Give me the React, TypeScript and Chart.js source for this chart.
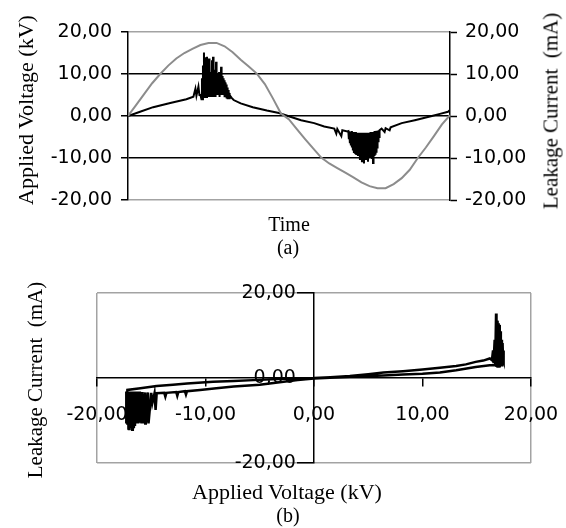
import React, { useEffect, useRef } from "react";
import { Chart, registerables } from "chart.js";

Chart.register(...registerables);

// ---------- (a) Time plot: applied voltage (kV) & leakage current (mA) ----------
// time axis in samples (32 kHz -> 640 samples per 50 Hz cycle)
const sampleTimes = [0, 16, 32, 48, 64, 80, 96, 112, 128, 144, 160, 176, 192, 208, 224, 240, 256, 272, 288, 304, 320, 336, 352, 368, 384, 400, 416, 432, 448, 464, 480, 496, 512, 528, 544, 560, 576, 592, 608, 624, 640];
const appliedVoltage = [0, 2.6, 5.2, 7.8, 10.0, 12.0, 13.7, 15.0, 16.0, 16.9, 17.4, 17.4, 16.6, 15.2, 13.4, 11.8, 10.1, 7.6, 4.2, 0.6, -0.8, -3.2, -5.5, -7.7, -9.9, -11.3, -12.4, -13.5, -14.6, -15.8, -16.7, -17.2, -17.2, -16.2, -14.8, -12.8, -10.0, -7.5, -4.8, -2.0, 0.2];

const currentTimes = [
  0, 24, 50, 84, 116, 130, 134, 136, 140, 142, 144,
  146, 147, 148, 149, 150, 151, 152, 153, 154, 155, 156, 157, 158, 159, 160, 161, 162, 163, 164, 165,
  166, 167, 168, 169, 170, 171, 172, 173, 174, 175, 176, 177, 178, 179, 180, 181, 182, 183, 184, 185,
  186, 187, 188, 189, 190, 191, 192, 193, 194, 195, 196, 197, 198, 199, 200, 201, 202, 203,
  206, 210, 224, 248, 276, 300, 318,
  344, 370, 390, 410, 414, 416, 424, 426, 436,
  438, 439, 440, 441, 442, 443, 444, 445, 446, 447, 448, 449, 450, 451, 452, 453, 454, 455, 456, 457,
  458, 459, 460, 461, 462, 463, 464, 465, 466, 467, 468, 469, 470, 471, 472, 473, 474, 475, 476, 477,
  478, 479, 480, 481, 482, 483, 484, 485, 486, 487, 488, 489, 490, 491, 492, 493, 494, 495, 496, 497,
  498, 499, 500,
  504, 510, 512, 520, 522, 544, 570, 604, 620, 636, 640,
];
const leakageCurrent = [
  0, 1.0, 2.1, 3.1, 4.0, 4.6, 6.5, 4.8, 7.0, 5.0, 5.0,
  4.0, 9.0, 4.0, 12.0, 4.5, 15.1, 5.0, 14.0, 4.5, 10.0, 4.5, 14.1, 5.0, 9.5, 4.5, 13.7, 5.0, 10.0, 4.5, 10.5,
  4.5, 13.3, 5.0, 14.1, 4.5, 9.8, 5.0, 11.0, 4.5, 12.9, 5.0, 10.0, 5.0, 9.5, 5.0, 10.5, 4.5, 9.5, 5.0, 11.7,
  5.0, 9.5, 5.0, 9.0, 5.0, 8.5, 4.5, 8.0, 4.5, 7.5, 4.2, 6.8, 4.0, 6.2, 4.0, 5.5, 4.0, 4.8,
  4.3, 3.8, 3.0, 2.1, 1.3, 0.7, 0.0,
  -1.0, -1.7, -2.5, -3.0, -4.2, -3.1, -4.8, -3.4, -3.7,
  -3.6, -5.5, -3.8, -6.5, -3.8, -7.0, -3.6, -7.5, -4.0, -8.2, -3.8, -8.8, -4.0, -9.0, -3.8, -9.2, -4.0, -9.3, -4.0, -9.5,
  -4.0, -9.3, -4.0, -10.5, -4.2, -9.3, -4.0, -11.0, -4.0, -9.5, -4.2, -11.3, -4.0, -9.5, -4.0, -10.5, -4.0, -9.3, -4.0, -10.9,
  -4.0, -9.2, -4.0, -9.5, -3.8, -9.2, -3.8, -10.0, -3.8, -11.2, -3.8, -9.3, -3.6, -9.0, -3.6, -8.5, -3.5, -7.5, -3.5, -6.0,
  -3.4, -5.0, -3.4,
  -3.0, -3.8, -2.9, -3.4, -2.7, -1.7, -1.0, 0.0, 0.5, 1.0, 1.4,
];

// ---------- (b) Leakage current vs applied voltage ----------
const voltageB = [
  0.0, 1.5, 3.3, 5.0, 6.4, 8.2, 10.0, 11.6, 13.1, 14.0, 14.9, 15.6, 16.2, 16.4,
  16.5, 16.55, 16.65, 16.7, 16.78, 16.82, 16.88, 16.92, 16.98, 17.02, 17.08, 17.12, 17.18, 17.22, 17.28, 17.32, 17.38, 17.42, 17.48, 17.5, 17.45, 17.35,
  17.0, 16.2, 14.9, 13.1, 11.6, 10.0, 8.2, 6.4, 3.3, 1.0, 0.0,
  -1.5, -2.8, -5.0, -7.4, -9.0, -10.5, -11.7, -11.8, -11.9, -12.5, -12.6, -12.7, -13.6, -13.7, -13.8, -14.5,
  -14.6, -14.7, -14.9, -15.0, -15.25, -15.3, -15.5, -15.55, -15.75, -15.8,
  -15.9, -15.95, -16.0, -16.05, -16.1, -16.15, -16.2, -16.25, -16.3, -16.35, -16.4, -16.45, -16.5, -16.55,
  -16.6, -16.65, -16.7, -16.75, -16.8, -16.85, -16.9, -16.95, -17.0, -17.05, -17.1, -17.15, -17.2, -17.25, -17.3, -17.2,
  -16.0, -14.5, -13.0, -11.7, -9.3, -7.4, -5.6, -2.8, 0.0,
];
const currentB = [
  0.0, 0.2, 0.5, 0.9, 1.3, 1.6, 2.0, 2.4, 2.8, 3.2, 3.8, 4.1, 4.6, 4.2,
  6.5, 3.5, 9.0, 3.0, 15.2, 2.6, 13.5, 2.4, 12.9, 2.4, 12.5, 2.5, 11.0, 3.0, 9.0, 3.5, 8.2, 4.5, 6.5, 4.0, 5.4, 3.0,
  3.2, 3.0, 2.6, 1.8, 1.3, 1.0, 0.8, 0.6, 0.3, 0.0, -0.1,
  -0.5, -0.9, -1.6, -2.0, -2.4, -2.8, -3.1, -3.9, -3.1, -3.3, -4.2, -3.3, -3.5, -4.4, -3.5, -3.6,
  -7.5, -3.6, -5.9, -3.5, -10.7, -3.4, -10.7, -3.4, -10.7, -3.3,
  -10.7, -3.3, -10.5, -3.2, -10.0, -3.2, -10.7, -3.2, -10.5, -3.2, -10.7, -3.2, -11.0, -3.2,
  -11.5, -3.2, -12.2, -3.2, -11.0, -3.2, -11.5, -3.2, -12.0, -3.2, -12.2, -3.2, -11.0, -3.2, -10.7, -2.8,
  -2.4, -1.9, -1.6, -1.3, -0.9, -0.7, -0.5, -0.2, 0.0,
];

const fmt = (v: any) => Number(v).toFixed(2).replace(".", ",");
// labels of the centred y axis sit a little left of the axis line
const fmtCentred = (v: any) => fmt(v) + "   ";
const tickFont = { family: "'DejaVu Sans', sans-serif", size: 19 };
const serif = "'Liberation Serif', 'Times New Roman', serif";

function Label(props: { x: number; y: number; text: string; size: number; rotate?: boolean }) {
  const { x, y, text, size, rotate } = props;
  return (
    <div
      style={{
        position: "absolute",
        left: x,
        top: y,
        transform: `translate(-50%, -50%)${rotate ? " rotate(-90deg)" : ""}`,
        fontFamily: serif,
        fontSize: size,
        lineHeight: 1,
        whiteSpace: "pre",
        color: "#000",
      }}
    >
      {text}
    </div>
  );
}

export default function App() {
  const refA = useRef<HTMLCanvasElement>(null);
  const refB = useRef<HTMLCanvasElement>(null);

  useEffect(() => {
    const edgeGray = "#a3a3a3";
    const chartA = new Chart(refA.current as HTMLCanvasElement, {
      type: "line",
      data: {
        datasets: [
          {
            label: "Applied Voltage (kV)",
            data: sampleTimes.map((t, i) => ({ x: t, y: appliedVoltage[i] })),
            borderColor: "#8c8c8c",
            borderWidth: 2,
            pointRadius: 0,
            tension: 0,
            yAxisID: "y",
          },
          {
            label: "Leakage Current (mA)",
            data: currentTimes.map((t, i) => ({ x: t, y: leakageCurrent[i] })),
            borderColor: "#000",
            borderWidth: 2,
            pointRadius: 0,
            tension: 0,
            yAxisID: "y1",
          },
        ],
      },
      options: {
        responsive: false,
        animation: false,
        events: [],
        layout: { padding: { top: 32, left: 0, right: 0, bottom: 0 } },
        plugins: { legend: { display: false }, tooltip: { enabled: false } },
        scales: {
          x: {
            type: "linear",
            min: 0,
            max: 640,
            ticks: { display: false },
            grid: { display: false },
            border: { display: false },
            title: {
              display: true,
              text: "Time",
              color: "#000",
              font: { family: serif, size: 20 },
              padding: { top: 0, bottom: 22 },
            },
            afterFit: (s: any) => {
              s.height = 60;
            },
          },
          y: {
            type: "linear",
            position: "left",
            min: -20,
            max: 20,
            ticks: { stepSize: 10, callback: fmt, font: tickFont, color: "#000", padding: 9 },
            grid: {
              color: (ctx: any) => (Math.abs(ctx.tick.value) === 20 ? edgeGray : "#000"),
              lineWidth: 1.5,
              tickLength: 7,
              tickColor: "#000",
              tickWidth: 1.5,
            },
            border: { color: "#000", width: 1.5 },
            afterFit: (s: any) => {
              s.width = 128;
            },
          },
          y1: {
            type: "linear",
            position: "right",
            min: -20,
            max: 20,
            ticks: { stepSize: 10, callback: fmt, font: tickFont, color: "#000", padding: 8 },
            grid: { drawOnChartArea: false, tickLength: 7, tickColor: "#000", tickWidth: 1.5 },
            border: { color: "#000", width: 1.5 },
            afterFit: (s: any) => {
              s.width = 116;
            },
          },
        },
      },
    } as any);

    const chartB = new Chart(refB.current as HTMLCanvasElement, {
      type: "scatter",
      data: {
        datasets: [
          {
            label: "Leakage Current (mA)",
            data: voltageB.map((v, i) => ({ x: v, y: currentB[i] })),
            showLine: true,
            borderColor: "#000",
            borderWidth: 2.5,
            pointRadius: 0,
            tension: 0,
          },
        ],
      },
      options: {
        responsive: false,
        animation: false,
        events: [],
        layout: { padding: { left: 97, right: 35, top: 33, bottom: 65 } },
        plugins: { legend: { display: false }, tooltip: { enabled: false } },
        scales: {
          x: {
            type: "linear",
            position: { y: 0 },
            min: -20,
            max: 20,
            ticks: { stepSize: 10, callback: fmt, font: tickFont, color: "#000", padding: 18, maxRotation: 0, autoSkip: false },
            grid: {
              color: (ctx: any) => (Math.abs(ctx.tick.value) === 20 ? edgeGray : "rgba(0,0,0,0)"),
              lineWidth: 1.5,
              tickLength: 8,
              tickColor: "#000",
              tickWidth: 1.5,
            },
            border: { color: "#000", width: 1.5 },
            afterFit: (s: any) => {
              s.height = 0;
              s.paddingLeft = 0;
              s.paddingRight = 0;
            },
          },
          y: {
            type: "linear",
            position: { x: 0 },
            min: -20,
            max: 20,
            ticks: { stepSize: 20, callback: fmtCentred, font: tickFont, color: "#000", padding: 4 },
            grid: {
              color: (ctx: any) => (Math.abs(ctx.tick.value) === 20 ? edgeGray : "rgba(0,0,0,0)"),
              lineWidth: 1.5,
              tickLength: 16,
              tickColor: "#000",
              tickWidth: 1.5,
            },
            border: { color: "#000", width: 1.5 },
            afterFit: (s: any) => {
              s.width = 0;
              s.paddingTop = 0;
              s.paddingBottom = 0;
            },
          },
        },
      },
    } as any);

    return () => {
      chartA.destroy();
      chartB.destroy();
    };
  }, []);

  return (
    <div style={{ position: "absolute", left: 0, top: 0, width: 566, height: 528, background: "#fff", overflow: "hidden" }}>
      <canvas ref={refA} width={566} height={260} style={{ position: "absolute", left: 0, top: 0 }} />
      <canvas ref={refB} width={566} height={268} style={{ position: "absolute", left: 0, top: 260 }} />
      <Label x={26} y={110} text="Applied Voltage (kV)" size={22} rotate />
      <Label x={551} y={111} text="Leakage Current  (mA)" size={21} rotate />
      <Label x={288} y={247} text="(a)" size={20} />
      <Label x={35} y={380} text="Leakage Current  (mA)" size={21} rotate />
      <Label x={287} y={492} text="Applied Voltage (kV)" size={22} />
      <Label x={288} y={515} text="(b)" size={20} />
    </div>
  );
}
